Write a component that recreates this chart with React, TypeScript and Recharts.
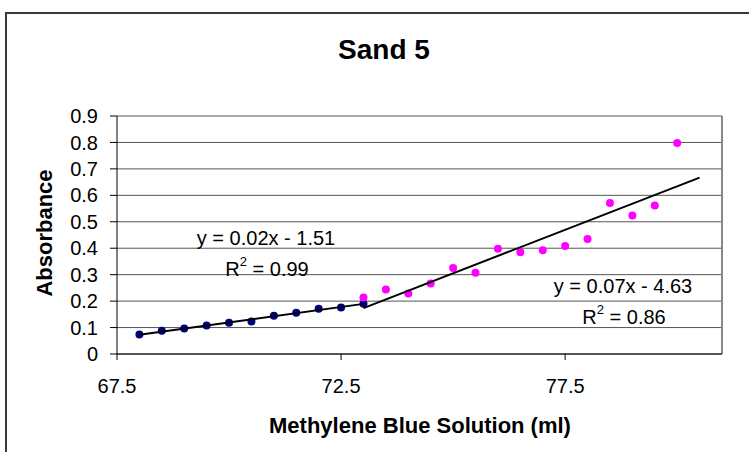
import { ScatterChart, Scatter, XAxis, YAxis, CartesianGrid, ReferenceLine } from "recharts";

// volume of methylene blue added (ml) and measured absorbance
const earlyVolume = [68, 68.5, 69, 69.5, 70, 70.5, 71, 71.5, 72, 72.5, 73];
const earlyAbsorbance = [0.074, 0.088, 0.096, 0.108, 0.118, 0.123, 0.145, 0.156, 0.171, 0.176, 0.19];

const lateVolume = [73, 73.5, 74, 74.5, 75, 75.5, 76, 76.5, 77, 77.5, 78, 78.5, 79, 79.5, 80];
const lateAbsorbance = [
  0.214, 0.244, 0.229, 0.267, 0.325, 0.307, 0.398, 0.385, 0.392, 0.408, 0.435, 0.571, 0.524, 0.562, 0.798,
];

const xTicks = [67.5, 72.5, 77.5];
const yTicks = [0, 0.1, 0.2, 0.3, 0.4, 0.5, 0.6, 0.7, 0.8, 0.9];
const lateForecast = 0.5;

const FONT = "'Liberation Sans', Arial, sans-serif";

function linearFit(xs: number[], ys: number[]) {
  const n = xs.length;
  const mx = xs.reduce((a, b) => a + b, 0) / n;
  const my = ys.reduce((a, b) => a + b, 0) / n;
  let sxx = 0;
  let sxy = 0;
  let syy = 0;
  for (let i = 0; i < n; i++) {
    sxx += (xs[i] - mx) ** 2;
    sxy += (xs[i] - mx) * (ys[i] - my);
    syy += (ys[i] - my) ** 2;
  }
  const slope = sxy / sxx;
  const intercept = my - slope * mx;
  const r2 = (sxy * sxy) / (sxx * syy);
  return { slope, intercept, r2 };
}

const toPoints = (xs: number[], ys: number[]) => xs.map((x, i) => ({ x, y: ys[i] }));

const earlyFit = linearFit(earlyVolume, earlyAbsorbance);
const lateFit = linearFit(lateVolume, lateAbsorbance);

const trend = (fit: { slope: number; intercept: number }, x0: number, x1: number) => [
  { x: x0, y: fit.slope * x0 + fit.intercept },
  { x: x1, y: fit.slope * x1 + fit.intercept },
];

const earlyTrend = trend(earlyFit, earlyVolume[0], earlyVolume[earlyVolume.length - 1]);
const lateTrend = trend(lateFit, lateVolume[0], lateVolume[lateVolume.length - 1] + lateForecast);

const equation = (fit: { slope: number; intercept: number }) =>
  `y = ${fit.slope.toFixed(2)}x ${fit.intercept < 0 ? "-" : "+"} ${Math.abs(fit.intercept).toFixed(2)}`;

const dot = (color: string) => (props: any) =>
  <circle cx={props.cx} cy={props.cy} r={4} fill={color} />;

const noDot = () => <g />;

const FitLabel = ({ x, y, fit }: { x: number; y: number; fit: { slope: number; intercept: number; r2: number } }) => (
  <g fontFamily={FONT} fontSize={20} fill="#000" textAnchor="middle">
    <text x={x} y={y}>{equation(fit)}</text>
    <text x={x + 1} y={y + 31}>
      R<tspan dy={-10} fontSize={13}>2</tspan>
      <tspan dy={10}> = {fit.r2.toFixed(2)}</tspan>
    </text>
  </g>
);

export default function App() {
  return (
    <div style={{ position: "absolute", left: 0, top: 0, width: 749, height: 452, overflow: "hidden", background: "#fff" }}>
      <div
        style={{
          position: "absolute",
          left: 5,
          top: 12,
          width: 780,
          height: 480,
          border: "2px solid #3a3a3a",
          boxSizing: "border-box",
        }}
      />
      <div style={{ position: "absolute", left: 0, top: 0 }}>
        <ScatterChart width={749} height={452} margin={{ top: 116, right: 27, bottom: 58, left: 17 }}>
          <CartesianGrid vertical={false} stroke="#555" strokeWidth={1} />
          <XAxis
            type="number"
            dataKey="x"
            domain={[67.5, 81]}
            ticks={xTicks}
            interval={0}
            allowDataOverflow
            height={40}
            stroke="#000"
            tickSize={6}
            tickMargin={19}
            tick={{ fontSize: 20, fill: "#000", fontFamily: FONT }}
          />
          <YAxis
            type="number"
            dataKey="y"
            domain={[0, 0.9]}
            ticks={yTicks}
            interval={0}
            allowDataOverflow
            width={100}
            stroke="#000"
            tickSize={7}
            tickMargin={12}
            tick={{ fontSize: 20, fill: "#000", fontFamily: FONT }}
          />
          <ReferenceLine x={81} stroke="#888" strokeWidth={2} />
          <Scatter data={toPoints(earlyVolume, earlyAbsorbance)} shape={dot("#000080")} isAnimationActive={false} />
          <Scatter data={toPoints(lateVolume, lateAbsorbance)} shape={dot("#FF00FF")} isAnimationActive={false} />
          <Scatter data={earlyTrend} line={{ stroke: "#000", strokeWidth: 2 }} shape={noDot} isAnimationActive={false} />
          <Scatter data={lateTrend} line={{ stroke: "#000", strokeWidth: 2 }} shape={noDot} isAnimationActive={false} />
        </ScatterChart>
      </div>
      <svg width={749} height={452} style={{ position: "absolute", left: 0, top: 0, pointerEvents: "none" }}>
        <text x={384} y={59} textAnchor="middle" fontFamily={FONT} fontWeight="bold" fontSize={28}>
          Sand 5
        </text>
        <text x={420} y={433} textAnchor="middle" fontFamily={FONT} fontWeight="bold" fontSize={22}>
          Methylene Blue Solution (ml)
        </text>
        <text
          transform="translate(52, 233) rotate(-90)"
          textAnchor="middle"
          fontFamily={FONT}
          fontWeight="bold"
          fontSize={22}
        >
          Absorbance
        </text>
        <FitLabel x={266} y={245} fit={earlyFit} />
        <FitLabel x={623} y={293} fit={lateFit} />
      </svg>
    </div>
  );
}
